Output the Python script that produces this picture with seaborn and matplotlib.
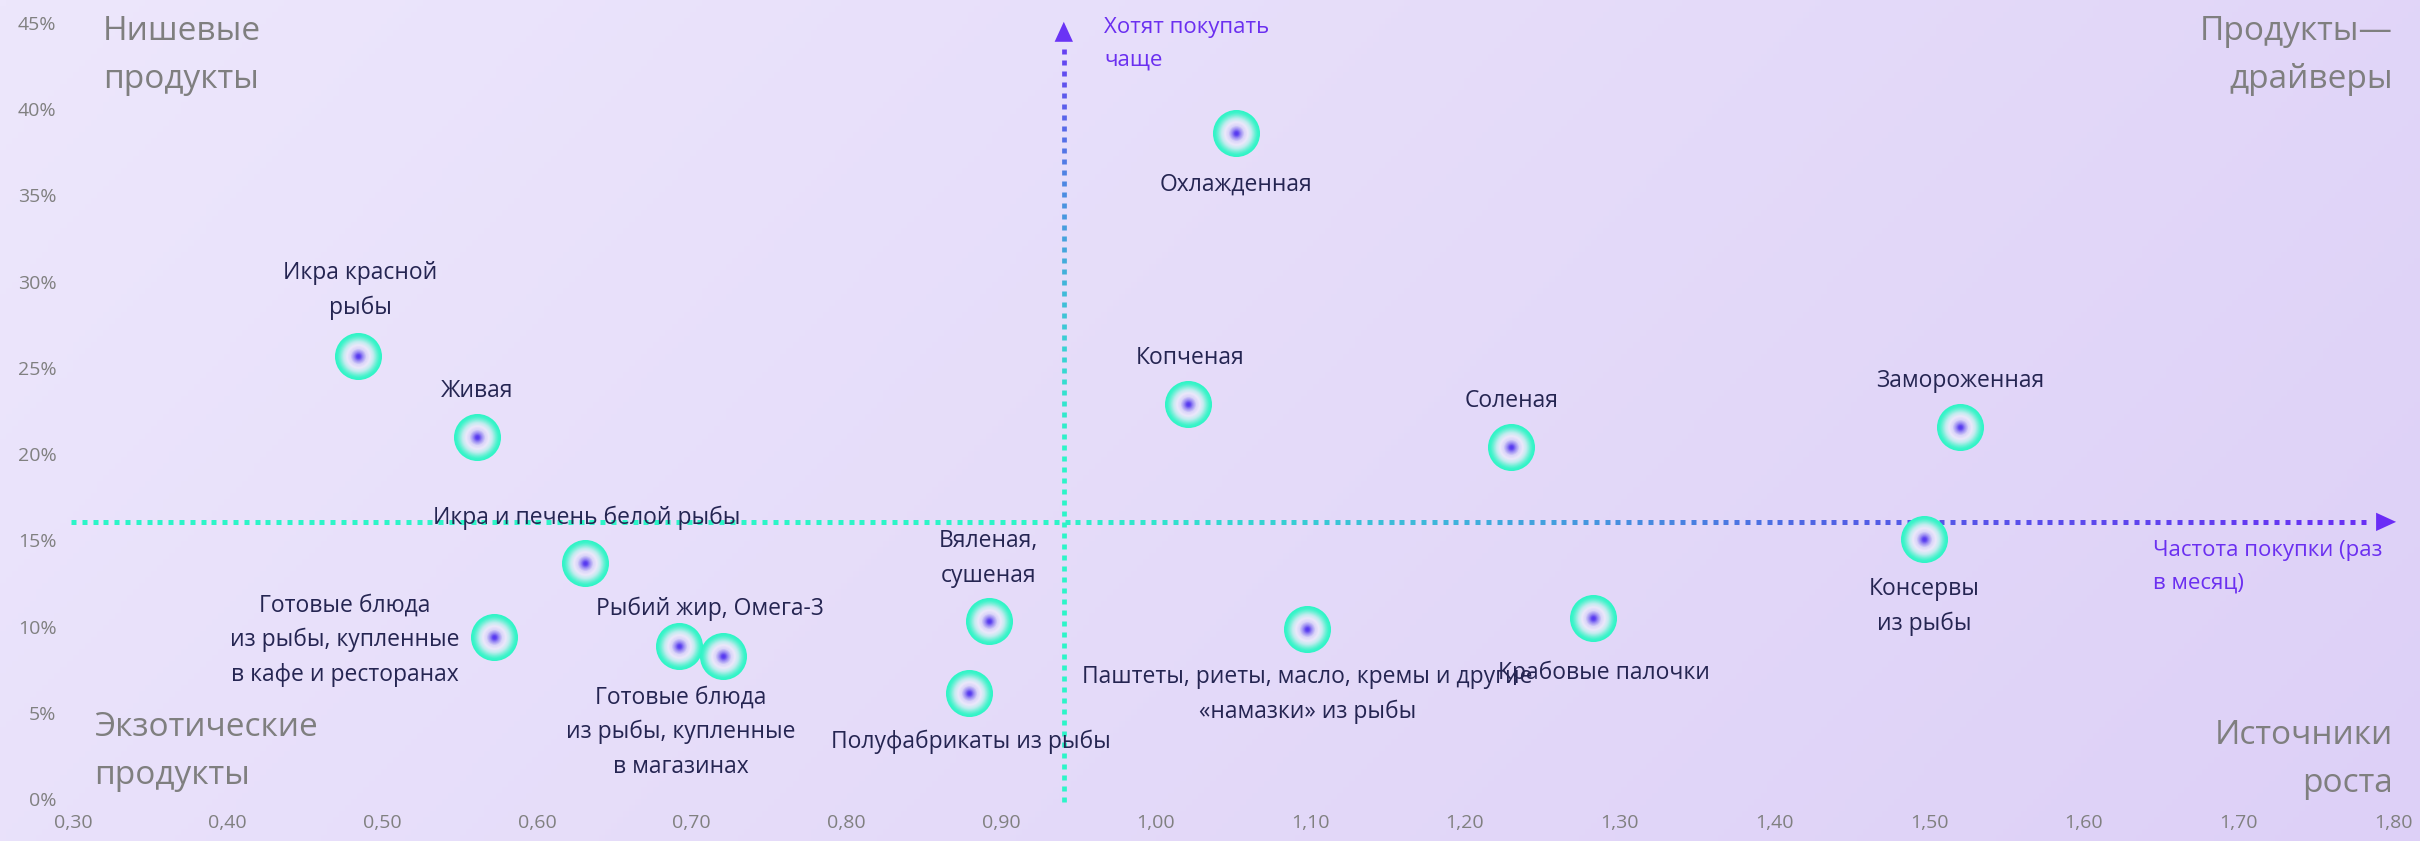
import numpy as np
import pandas as pd
import matplotlib
matplotlib.use("Agg")
import matplotlib.pyplot as plt
import seaborn as sns
from matplotlib.collections import LineCollection
from matplotlib.colors import LinearSegmentedColormap, to_rgb

# ---------------- data ----------------
categories = [
    "Охлажденная",
    "Икра красной\nрыбы",
    "Живая",
    "Копченая",
    "Соленая",
    "Замороженная",
    "Икра и печень белой рыбы",
    "Консервы\nиз рыбы",
    "Готовые блюда\nиз рыбы, купленные\nв кафе и ресторанах",
    "Рыбий жир, Омега-3",
    "Готовые блюда\nиз рыбы, купленные\nв магазинах",
    "Вяленая,\nсушеная",
    "Полуфабрикаты из рыбы",
    "Паштеты, риеты, масло, кремы и другие\n«намазки» из рыбы",
    "Крабовые палочки",
]
frequency = [1.052, 0.484, 0.561, 1.021, 1.230, 1.520, 0.631, 1.497,
             0.572, 0.692, 0.720, 0.892, 0.879, 1.098, 1.283]
want_more = [0.386, 0.257, 0.210, 0.229, 0.204, 0.2155, 0.137, 0.151,
             0.094, 0.089, 0.083, 0.103, 0.0615, 0.0986, 0.105]

x_ticks = [0.30, 0.40, 0.50, 0.60, 0.70, 0.80, 0.90, 1.00,
           1.10, 1.20, 1.30, 1.40, 1.50, 1.60, 1.70, 1.80]
x_tick_labels = ["0,30", "0,40", "0,50", "0,60", "0,70", "0,80", "0,90", "1,00",
                 "1,10", "1,20", "1,30", "1,40", "1,50", "1,60", "1,70", "1,80"]
y_ticks = [0.00, 0.05, 0.10, 0.15, 0.20, 0.25, 0.30, 0.35, 0.40, 0.45]
y_tick_labels = ["0%", "5%", "10%", "15%", "20%", "25%", "30%", "35%", "40%", "45%"]

quadrant_x = 0.9406   # frequency split
quadrant_y = 0.1607   # share split

corner_labels = ["Нишевые\nпродукты", "Продукты—\nдрайверы",
                 "Экзотические\nпродукты", "Источники\nроста"]
axis_label_y = "Хотят покупать\nчаще"
axis_label_x = "Частота покупки (раз\nв месяц)"

# label offsets (pixels) relative to each point
label_offsets = [(0, -51), (3, 65), (0, 46), (2, 46), (0, 46), (0, 46), (2, 45),
                 (0, -68), (-149, -3), (31, 37), (-42, -76), (0, 63), (2, -49),
                 (0, -66), (11, -55)]

df = pd.DataFrame({"category": categories, "frequency": frequency, "share": want_more})

# ---------------- style ----------------
sns.set_theme(style="white")
FONT = ["Open Sans", "DejaVu Sans"]
plt.rcParams["font.family"] = FONT

W, H = 2420, 841
DPI = 100
fig = plt.figure(figsize=(W / DPI, H / DPI), dpi=DPI)

# background gradient
bg = fig.add_axes([0, 0, 1, 1])
gx = np.linspace(0, 1, 400)
gy = np.linspace(0, 1, 140)
GX, GY = np.meshgrid(gx, gy)
t = (GX * 0.75 + GY * 0.25)
c0 = np.array(to_rgb("#ede7fc"))
c1 = np.array(to_rgb("#ddd0f7"))
img = c0[None, None, :] * (1 - t[..., None]) + c1[None, None, :] * t[..., None]
bg.imshow(img, aspect="auto", extent=[0, 1, 0, 1], origin="upper")
bg.set_axis_off()

L, R, B, T = 73 / W, 2393 / W, 1 - 799 / H, 1 - 23 / H
ax = fig.add_axes([L, B, R - L, T - B])
ax.set_facecolor("none")
ax.set_xlim(0.3, 1.8)
ax.set_ylim(0, 0.45)
for s in ax.spines.values():
    s.set_visible(False)

ax.set_xticks(x_ticks)
ax.set_xticklabels(x_tick_labels)
ax.set_yticks(y_ticks)
ax.set_yticklabels(y_tick_labels)
ax.tick_params(axis="both", length=0, colors="#808080", labelsize=14)
ax.tick_params(axis="y", pad=12)
ax.tick_params(axis="x", pad=11)
ax.grid(False)

# ------------- quadrant dotted gradient lines -------------
px_per_x = (2393 - 73) / 1.5
px_per_y = (799 - 23) / 0.45

def grad_cmap(stops):
    return LinearSegmentedColormap.from_list("g", stops)

h_cmap = grad_cmap([(0.0, "#2cf5c8"), (0.42, "#2cf5c8"), (0.6, "#3fb0dc"),
                    (0.76, "#5060e4"), (1.0, "#6a2cf5")])
v_cmap = grad_cmap([(0.0, "#2cf5c8"), (0.45, "#2cf5c8"), (0.6, "#3ccbd5"),
                    (0.77, "#4a90e0"), (1.0, "#6a30f5")])

dot_len, period = 5.0, 10.8
# horizontal
hx0, hx1 = 0.2987, 1.802
n = int(((hx1 - hx0) * px_per_x - 14) / period)
starts = hx0 + np.arange(n) * period / px_per_x
segs = [[(s, quadrant_y), (s + dot_len / px_per_x, quadrant_y)] for s in starts]
cols = h_cmap((starts - hx0) / (hx1 - hx0))
ax.add_collection(LineCollection(segs, colors=cols, linewidths=3.6,
                                 capstyle="butt", clip_on=False, zorder=2))
ax.annotate("", xy=(hx1, quadrant_y), xytext=(hx1 - 20 / px_per_x, quadrant_y),
            arrowprops=dict(arrowstyle="-|>,head_length=1.2,head_width=0.55",
                            color="#6b2cf6", lw=0, shrinkA=0, shrinkB=0),
            annotation_clip=False, zorder=3)
# vertical
vy0, vy1 = -0.002, 0.4507
period_v = 11.0
n = int(((vy1 - vy0) * px_per_y - 14) / period_v)
starts = vy0 + np.arange(n) * period_v / px_per_y
segs = [[(quadrant_x, s), (quadrant_x, s + dot_len / px_per_y)] for s in starts]
cols = v_cmap((starts - vy0) / (vy1 - vy0))
ax.add_collection(LineCollection(segs, colors=cols, linewidths=3.4,
                                 capstyle="butt", clip_on=False, zorder=2))
ax.annotate("", xy=(quadrant_x, vy1), xytext=(quadrant_x, vy1 - 20 / px_per_y),
            arrowprops=dict(arrowstyle="-|>,head_length=1.2,head_width=0.55",
                            color="#6a33f5", lw=0, shrinkA=0, shrinkB=0),
            annotation_clip=False, zorder=3)

# ------------- radial-gradient markers -------------
r_cmap = grad_cmap([(0.0, "#4f2ef0"), (0.1, "#6248f0"), (0.2, "#9a8cf3"),
                    (0.35, "#d9d4f8"), (0.5, "#ece8fb"), (0.65, "#c2ecef"),
                    (0.8, "#6ff1d6"), (0.9, "#3ff4cb"), (1.0, "#2ef5c6")])
diam_pt = 47 / (DPI / 72)
radii = np.linspace(1.0, 0.04, 32)
for r in radii:
    sns.scatterplot(data=df, x="frequency", y="share", ax=ax,
                    s=(diam_pt * r) ** 2, color=r_cmap(r), linewidth=0,
                    legend=False, zorder=4)
ax.set_xlabel("")
ax.set_ylabel("")

# ------------- labels -------------
text_color = "#252552"
for (cat, fx, fy), (dx, dy) in zip(zip(categories, frequency, want_more), label_offsets):
    ax.annotate(cat, xy=(fx, fy), xytext=(dx, dy), textcoords="offset pixels",
                ha="center", va="center", multialignment="center",
                fontsize=16.5, color=text_color, linespacing=1.58, zorder=5)

# corner labels (figure pixel coordinates)
def fig_text(xpx, ypx, s, **kw):
    fig.text(xpx / W, 1 - ypx / H, s, **kw)

corner_kw = dict(fontsize=24, color="#7f7f7f", linespacing=1.6, va="center")
fig_text(103, 56, corner_labels[0], ha="left", multialignment="left", **corner_kw)
fig_text(2393, 56, corner_labels[1], ha="right", multialignment="right", **corner_kw)
fig_text(94, 752, corner_labels[2], ha="left", multialignment="left", **corner_kw)
fig_text(2393, 760, corner_labels[3], ha="right", multialignment="right", **corner_kw)

arrow_kw = dict(fontsize=16, color="#6b2ff0", linespacing=1.75, va="center",
                ha="left", multialignment="left")
fig_text(1104, 44, axis_label_y, **arrow_kw)
fig_text(2153, 567, axis_label_x, **arrow_kw)

fig.savefig("out.png", dpi=DPI)
